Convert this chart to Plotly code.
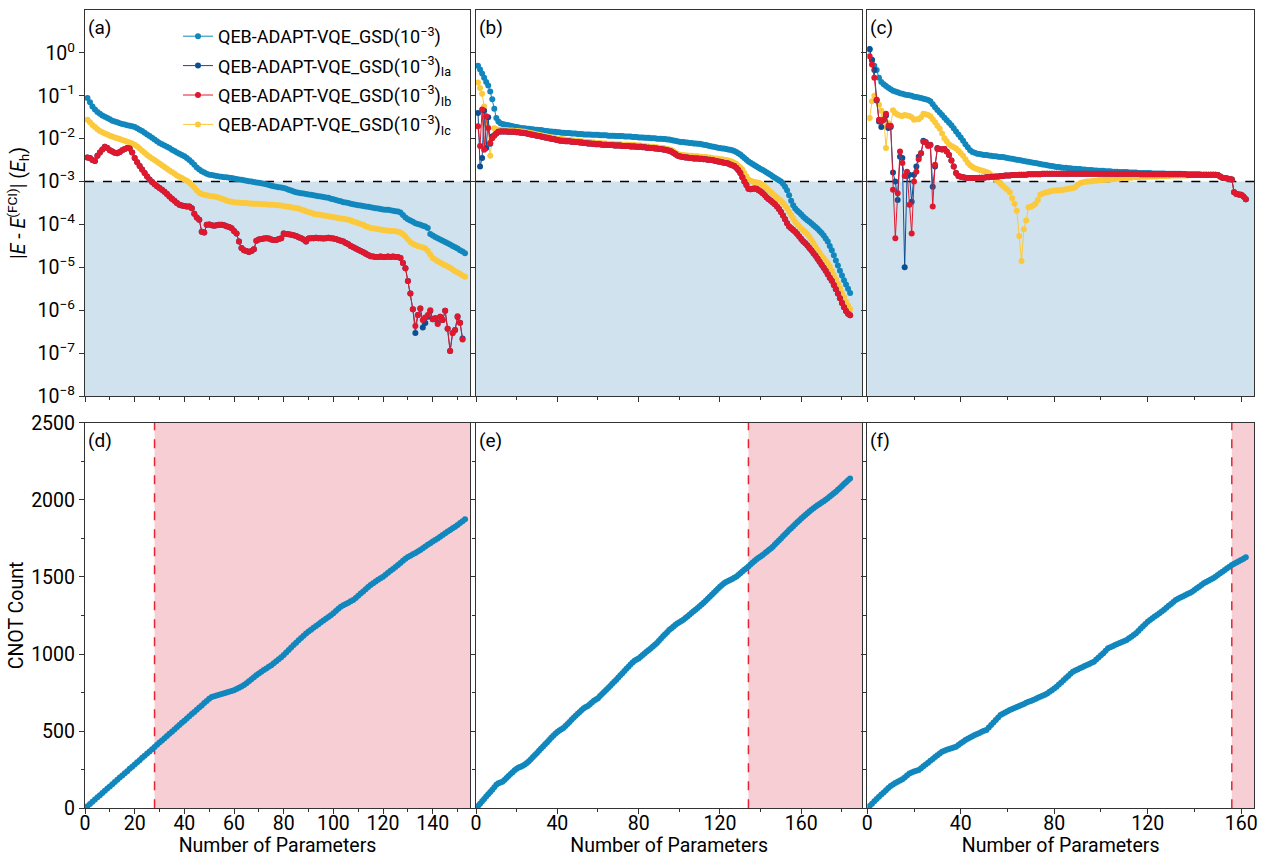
import plotly.graph_objects as go

# ---------------- data (log10 of |E - E_FCI| in Eh) ----------------
# Panel (a)
A_MAIN = [
    -1.05, -1.15, -1.25, -1.32, -1.38, -1.42, -1.46, -1.49, -1.52, -1.55,
    -1.58, -1.60, -1.62, -1.64, -1.66, -1.67, -1.69, -1.70, -1.71, -1.73,
    -1.76, -1.79, -1.82, -1.86, -1.90, -1.94, -1.98, -2.02, -2.06, -2.10,
    -2.13, -2.16, -2.19, -2.22, -2.26, -2.29, -2.32, -2.35, -2.38, -2.41,
    -2.45, -2.50, -2.55, -2.61, -2.67, -2.72, -2.76, -2.79, -2.82, -2.84,
    -2.85, -2.86, -2.87, -2.88, -2.89, -2.90, -2.90, -2.91, -2.92, -2.93,
    -2.94, -2.95, -2.96, -2.97, -2.98, -2.99, -3.00, -3.01, -3.02, -3.03,
    -3.04, -3.05, -3.06, -3.08, -3.10, -3.11, -3.12, -3.13, -3.14, -3.15,
    -3.17, -3.19, -3.21, -3.23, -3.25, -3.26, -3.27, -3.28, -3.29, -3.30,
    -3.31, -3.32, -3.33, -3.34, -3.35, -3.36, -3.37, -3.38, -3.40, -3.41,
    -3.43, -3.45, -3.46, -3.48, -3.49, -3.50, -3.52, -3.53, -3.54, -3.55,
    -3.56, -3.57, -3.58, -3.59, -3.60, -3.61, -3.62, -3.63, -3.64, -3.65,
    -3.66, -3.66, -3.67, -3.68, -3.69, -3.70, -3.72, -3.78, -3.84, -3.88,
    -3.91, -3.94, -3.97, -3.99, -4.01, -4.03, -4.05, -4.08, -4.22, -4.26,
    -4.29, -4.32, -4.35, -4.38, -4.41, -4.44, -4.47, -4.50, -4.53, -4.56,
    -4.60, -4.63, -4.67,
]
A_IB = [
    -2.44, -2.45, -2.50, -2.52, -2.40, -2.32, -2.25, -2.19, -2.22, -2.27,
    -2.30, -2.33, -2.34, -2.31, -2.27, -2.24, -2.22, -2.23, -2.32, -2.45,
    -2.55, -2.64, -2.72, -2.80, -2.88, -2.95, -3.01, -3.06, -3.11, -3.15,
    -3.19, -3.24, -3.29, -3.35, -3.40, -3.45, -3.50, -3.54, -3.56, -3.57,
    -3.58, -3.58, -3.62, -3.75, -3.84, -3.89, -4.17, -4.19, -4.01, -4.00,
    -4.02, -4.03, -4.02, -4.01, -4.01, -4.02, -4.04, -4.06, -4.09, -4.15,
    -4.21, -4.40, -4.55, -4.60, -4.62, -4.64, -4.62, -4.58, -4.38, -4.35,
    -4.34, -4.33, -4.32, -4.33, -4.35, -4.36, -4.36, -4.34, -4.32, -4.21,
    -4.22, -4.23, -4.24, -4.25, -4.27, -4.30, -4.32, -4.35, -4.40, -4.33,
    -4.32, -4.32, -4.31, -4.32, -4.32, -4.33, -4.32, -4.31, -4.32, -4.33,
    -4.34, -4.36, -4.38, -4.40, -4.43, -4.46, -4.50, -4.53, -4.56, -4.59,
    -4.62, -4.65, -4.68, -4.71, -4.74, -4.75, -4.76, -4.76, -4.75, -4.76,
    -4.76, -4.75, -4.76, -4.75, -4.76, -4.76, -4.78, -4.90, -5.02, -5.32,
    -5.61, -5.98, -6.37, -6.11, -5.96, -6.23, -6.17, -6.11, -6.00, -6.21,
    -6.19, -6.32, -6.15, -6.23, -6.01, -6.43, -6.95, -6.53, -6.46, -6.14,
    -6.29, -6.68,
]
A_IA = A_IB[:130] + [
    -5.61, -5.98, -6.53, -6.11, -5.96, -6.40, -6.30, -6.15, -6.02, -6.21,
    -6.19, -6.30, -6.15, -6.23, -6.01, -6.43, -6.95, -6.53, -6.46, -6.16,
    -6.29, -6.66,
]
A_IC = [
    -1.56, -1.62, -1.68, -1.73, -1.78, -1.82, -1.85, -1.88, -1.90, -1.93,
    -1.95, -1.97, -1.99, -2.01, -2.03, -2.05, -2.07, -2.09, -2.11, -2.14,
    -2.18, -2.23, -2.28, -2.33, -2.38, -2.42, -2.46, -2.50, -2.54, -2.58,
    -2.62, -2.66, -2.70, -2.74, -2.78, -2.82, -2.86, -2.89, -2.92, -2.95,
    -2.98, -3.02, -3.08, -3.14, -3.20, -3.26, -3.29, -3.31, -3.32, -3.33,
    -3.34, -3.35, -3.36, -3.38, -3.40, -3.42, -3.44, -3.46, -3.47, -3.48,
    -3.49, -3.49, -3.50, -3.50, -3.50, -3.51, -3.51, -3.52, -3.52, -3.52,
    -3.53, -3.53, -3.53, -3.54, -3.54, -3.54, -3.55, -3.55, -3.56, -3.57,
    -3.58, -3.59, -3.60, -3.61, -3.62, -3.63, -3.65, -3.67, -3.69, -3.71,
    -3.73, -3.75, -3.76, -3.77, -3.78, -3.79, -3.80, -3.81, -3.82, -3.83,
    -3.84, -3.85, -3.86, -3.87, -3.88, -3.89, -3.91, -3.93, -3.95, -3.97,
    -3.99, -4.01, -4.04, -4.06, -4.08, -4.09, -4.10, -4.11, -4.12, -4.13,
    -4.14, -4.14, -4.15, -4.15, -4.16, -4.17, -4.19, -4.23, -4.28, -4.35,
    -4.41, -4.45, -4.48, -4.50, -4.52, -4.54, -4.56, -4.62, -4.70, -4.78,
    -4.82, -4.86, -4.89, -4.92, -4.95, -4.98, -5.01, -5.05, -5.09, -5.12,
    -5.15, -5.19, -5.22,
]

# Panel (b)
B_MAIN = [
    -0.30, -0.39, -0.48, -0.58, -0.68, -0.76, -0.90, -1.08, -1.30, -1.52,
    -1.60, -1.64, -1.66, -1.67, -1.68, -1.69, -1.70, -1.71, -1.72, -1.73,
    -1.74, -1.75, -1.76, -1.76, -1.77, -1.77, -1.78, -1.78, -1.79, -1.79,
    -1.80, -1.80, -1.81, -1.82, -1.82, -1.83, -1.83, -1.84, -1.84, -1.85,
    -1.85, -1.86, -1.86, -1.87, -1.87, -1.87, -1.88, -1.88, -1.88, -1.89,
    -1.89, -1.89, -1.90, -1.90, -1.90, -1.90, -1.91, -1.91, -1.91, -1.91,
    -1.92, -1.92, -1.92, -1.92, -1.93, -1.93, -1.93, -1.93, -1.94, -1.94,
    -1.94, -1.94, -1.95, -1.95, -1.95, -1.95, -1.96, -1.96, -1.96, -1.97,
    -1.97, -1.97, -1.98, -1.98, -1.98, -1.99, -1.99, -1.99, -2.00, -2.00,
    -2.00, -2.01, -2.01, -2.02, -2.02, -2.03, -2.04, -2.05, -2.06, -2.07,
    -2.08, -2.08, -2.09, -2.09, -2.10, -2.10, -2.11, -2.11, -2.12, -2.12,
    -2.13, -2.14, -2.15, -2.16, -2.17, -2.18, -2.19, -2.20, -2.21, -2.22,
    -2.23, -2.23, -2.24, -2.25, -2.26, -2.27, -2.29, -2.31, -2.34, -2.37,
    -2.41, -2.45, -2.49, -2.53, -2.56, -2.59, -2.62, -2.65, -2.68, -2.71,
    -2.73, -2.76, -2.79, -2.82, -2.85, -2.88, -2.91, -2.94, -2.97, -3.00,
    -3.05, -3.12, -3.20, -3.32, -3.45, -3.55, -3.63, -3.68, -3.72, -3.77,
    -3.82, -3.86, -3.90, -3.94, -3.98, -4.02, -4.06, -4.10, -4.15, -4.20,
    -4.26, -4.33, -4.40, -4.50, -4.60, -4.72, -4.84, -4.96, -5.08, -5.19,
    -5.30, -5.40, -5.50, -5.60,
]
B_IB = [
    -1.71, -2.17, -1.32, -2.26, -1.48, -1.75, -2.10, -1.99, -1.93, -1.88,
    -1.84, -1.83, -1.83, -1.83, -1.83, -1.84, -1.84, -1.84, -1.84, -1.85,
    -1.85, -1.86, -1.86, -1.87, -1.88, -1.89, -1.90, -1.91, -1.92, -1.93,
    -1.94, -1.95, -1.96, -1.97, -1.98, -1.99, -2.00, -2.01, -2.02, -2.03,
    -2.04, -2.05, -2.05, -2.06, -2.06, -2.06, -2.07, -2.07, -2.08, -2.08,
    -2.09, -2.09, -2.10, -2.10, -2.11, -2.11, -2.12, -2.12, -2.13, -2.13,
    -2.13, -2.14, -2.14, -2.14, -2.15, -2.15, -2.15, -2.16, -2.16, -2.16,
    -2.16, -2.17, -2.17, -2.17, -2.17, -2.18, -2.18, -2.18, -2.19, -2.19,
    -2.19, -2.20, -2.20, -2.21, -2.21, -2.22, -2.22, -2.23, -2.23, -2.24,
    -2.24, -2.25, -2.26, -2.27, -2.28, -2.30, -2.33, -2.36, -2.39, -2.41,
    -2.42, -2.43, -2.44, -2.44, -2.45, -2.45, -2.46, -2.46, -2.46, -2.47,
    -2.47, -2.48, -2.48, -2.49, -2.49, -2.50, -2.51, -2.52, -2.53, -2.54,
    -2.55, -2.56, -2.57, -2.58, -2.60, -2.62, -2.64, -2.68, -2.73, -2.80,
    -2.90, -3.00, -3.08, -3.17, -3.18, -3.17, -3.16, -3.17, -3.20, -3.23,
    -3.27, -3.32, -3.37, -3.41, -3.45, -3.49, -3.53, -3.58, -3.64, -3.71,
    -3.79, -3.88, -3.97, -4.05, -4.09, -4.13, -4.17, -4.22, -4.28, -4.34,
    -4.40, -4.44, -4.49, -4.55, -4.61, -4.67, -4.73, -4.80, -4.87, -4.94,
    -5.01, -5.08, -5.16, -5.24, -5.31, -5.41, -5.51, -5.61, -5.72, -5.83,
    -5.93, -6.02, -6.08, -6.12,
]
B_IA = [-1.40, -2.65, -2.45, -1.35, -2.22, -1.50, -2.12, -1.95, -1.92, -1.88] + B_IB[10:]
B_IC = [
    -0.69, -0.82, -0.95, -1.25, -1.65, -2.10, -2.40, -1.95, -1.76, -1.78,
    -1.79, -1.80, -1.80, -1.80, -1.80, -1.81, -1.81, -1.81, -1.82, -1.82,
    -1.82, -1.83, -1.83, -1.84, -1.85, -1.86, -1.87, -1.88, -1.89, -1.90,
    -1.91, -1.92, -1.93, -1.94, -1.95, -1.96, -1.97, -1.98, -1.99, -2.00,
    -2.01, -2.01, -2.02, -2.02, -2.03, -2.03, -2.04, -2.04, -2.05, -2.05,
    -2.06, -2.06, -2.07, -2.07, -2.08, -2.08, -2.09, -2.09, -2.10, -2.10,
    -2.10, -2.11, -2.11, -2.11, -2.12, -2.12, -2.12, -2.13, -2.13, -2.13,
    -2.13, -2.14, -2.14, -2.14, -2.14, -2.15, -2.15, -2.15, -2.16, -2.16,
    -2.16, -2.17, -2.17, -2.18, -2.18, -2.19, -2.19, -2.20, -2.20, -2.21,
    -2.21, -2.22, -2.23, -2.24, -2.25, -2.26, -2.29, -2.32, -2.35, -2.37,
    -2.38, -2.38, -2.39, -2.39, -2.40, -2.40, -2.41, -2.41, -2.41, -2.42,
    -2.42, -2.43, -2.43, -2.44, -2.44, -2.45, -2.46, -2.46, -2.47, -2.48,
    -2.48, -2.49, -2.50, -2.51, -2.52, -2.54, -2.56, -2.59, -2.63, -2.67,
    -2.72, -2.80, -2.88, -2.95, -2.98, -3.00, -3.01, -3.02, -3.03, -3.05,
    -3.08, -3.12, -3.16, -3.21, -3.25, -3.29, -3.33, -3.37, -3.41, -3.45,
    -3.50, -3.56, -3.62, -3.70, -3.78, -3.86, -3.94, -4.00, -4.05, -4.10,
    -4.14, -4.18, -4.23, -4.29, -4.36, -4.44, -4.52, -4.59, -4.66, -4.73,
    -4.79, -4.85, -4.91, -4.98, -5.08, -5.18, -5.28, -5.38, -5.49, -5.60,
    -5.70, -5.80, -5.89, -5.97,
]

# Panel (c)
C_MAIN = [
    0.08, -0.18, -0.30, -0.40, -0.58, -0.68, -0.73, -0.77, -0.81, -0.85,
    -0.88, -0.90, -0.92, -0.94, -0.95, -0.97, -0.98, -0.99, -1.00, -1.02,
    -1.03, -1.04, -1.05, -1.07, -1.08, -1.10, -1.13, -1.20, -1.27, -1.33,
    -1.39, -1.45, -1.51, -1.57, -1.63, -1.69, -1.76, -1.83, -1.90, -1.97,
    -2.05, -2.13, -2.20, -2.27, -2.31, -2.33, -2.35, -2.36, -2.37, -2.38,
    -2.38, -2.39, -2.40, -2.41, -2.41, -2.42, -2.43, -2.43, -2.44, -2.45,
    -2.46, -2.47, -2.48, -2.49, -2.50, -2.51, -2.52, -2.53, -2.54, -2.55,
    -2.56, -2.57, -2.58, -2.59, -2.60, -2.61, -2.62, -2.63, -2.64, -2.65,
    -2.66, -2.66, -2.67, -2.68, -2.68, -2.69, -2.69, -2.70, -2.70, -2.71,
    -2.71, -2.72, -2.72, -2.73, -2.73, -2.73, -2.74, -2.74, -2.75, -2.75,
    -2.75, -2.76, -2.76, -2.76, -2.77, -2.77, -2.77, -2.78, -2.78, -2.78,
    -2.78, -2.79, -2.79, -2.79, -2.79, -2.80, -2.80, -2.80, -2.80, -2.80,
    -2.80, -2.81, -2.81, -2.81, -2.81, -2.81, -2.81, -2.82, -2.82, -2.82,
    -2.82, -2.82, -2.82, -2.82, -2.83, -2.83, -2.83, -2.83, -2.83, -2.83,
    -2.83, -2.83, -2.84, -2.84, -2.84, -2.84, -2.84, -2.84, -2.84, -2.85,
    -2.88, -2.91, -2.92, -2.93, -2.94, -2.95, -3.25, -3.29, -3.30, -3.31,
    -3.35, -3.41,
]
C_IB = [
    -0.08, -0.27, -0.58, -1.09, -1.56, -1.60, -1.56, -1.42, -1.70, -1.70,
    -3.19, -4.32, -3.27, -2.30, -2.57, -2.87, -2.77, -3.54, -4.21, -3.00,
    -2.77, -2.48, -2.34, -2.07, -2.09, -2.17, -2.15, -3.58, -2.61, -2.24,
    -2.24, -2.25, -2.24, -2.30, -2.38, -2.51, -2.65, -2.80, -2.87, -2.89,
    -2.90, -2.91, -2.92, -2.92, -2.92, -2.92, -2.92, -2.91, -2.91, -2.91,
    -2.90, -2.90, -2.89, -2.89, -2.88, -2.88, -2.87, -2.87, -2.86, -2.86,
    -2.86, -2.85, -2.85, -2.85, -2.84, -2.84, -2.84, -2.84, -2.83, -2.83,
    -2.83, -2.83, -2.83, -2.83, -2.82, -2.82, -2.82, -2.82, -2.82, -2.82,
    -2.82, -2.82, -2.82, -2.82, -2.82, -2.82, -2.82, -2.82, -2.82, -2.82,
    -2.82, -2.82, -2.82, -2.82, -2.82, -2.82, -2.82, -2.82, -2.82, -2.82,
    -2.82, -2.82, -2.82, -2.82, -2.82, -2.82, -2.82, -2.82, -2.82, -2.82,
    -2.82, -2.82, -2.82, -2.82, -2.82, -2.82, -2.83, -2.83, -2.83, -2.83,
    -2.83, -2.83, -2.83, -2.83, -2.83, -2.83, -2.83, -2.83, -2.83, -2.83,
    -2.83, -2.83, -2.83, -2.83, -2.83, -2.83, -2.84, -2.84, -2.84, -2.84,
    -2.84, -2.84, -2.84, -2.84, -2.84, -2.84, -2.84, -2.84, -2.84, -2.85,
    -2.88, -2.91, -2.92, -2.93, -2.94, -2.95, -3.25, -3.29, -3.30, -3.31,
    -3.35, -3.41,
]
C_IA = [
    0.09, -0.16, -0.40, -1.11, -1.60, -1.73, -1.56, -1.46, -1.75, -1.73,
    -2.79, -3.00, -3.43, -2.42, -2.45, -5.00, -2.87, -2.84, -3.47, -2.84,
    -2.65, -2.42, -2.34, -2.05, -2.08, -2.15, -2.14, -3.12, -2.65, -2.22,
] + C_IB[30:]
C_IC = [
    -1.52, -1.13, -1.00, -1.08, -1.21, -1.35, -1.48, -2.22, -1.64, -1.71, -1.34,
    -1.40, -1.44, -1.46, -1.47, -1.45, -1.46, -1.47, -1.50, -1.56,
    -1.55, -1.55, -1.50, -1.42, -1.43, -1.45, -1.48, -1.55, -1.62, -1.70,
    -1.77, -1.88, -1.99, -2.06, -2.13, -2.17, -2.20, -2.23, -2.28, -2.34,
    -2.40, -2.48, -2.56, -2.62, -2.66, -2.69, -2.71, -2.73, -2.74, -2.76,
    -2.78, -2.80, -2.85, -2.90, -2.95, -3.00, -3.05, -3.10, -3.15, -3.19,
    -3.25, -3.39, -3.52, -3.68, -4.27, -4.85, -4.11, -3.91, -3.60, -3.59,
    -3.56, -3.52, -3.43, -3.31, -3.28, -3.26, -3.25, -3.23, -3.22, -3.21,
    -3.21, -3.20, -3.20, -3.19, -3.18, -3.17, -3.16, -3.15, -3.13, -3.08,
    -3.04, -3.02, -3.01, -3.00, -3.00, -2.99, -2.98, -2.98, -2.97, -2.97,
    -2.96, -2.96, -2.95, -2.95, -2.94, -2.94, -2.93, -2.93, -2.92, -2.92,
    -2.91, -2.91, -2.91, -2.90, -2.90, -2.90, -2.89, -2.89, -2.89, -2.89,
    -2.88, -2.88, -2.88, -2.88, -2.87, -2.87, -2.87, -2.87, -2.87, -2.86,
    -2.86, -2.86, -2.86, -2.86, -2.86, -2.86, -2.86, -2.85, -2.85, -2.85,
    -2.85, -2.85, -2.85, -2.85, -2.85, -2.85, -2.85, -2.85, -2.85, -2.85,
    -2.88, -2.91, -2.92, -2.93, -2.94, -2.95, -3.25, -3.29, -3.30, -3.31,
    -3.35, -3.41,
]

# CNOT counts (panels d, e, f)
D_CNOT = [
    14, 28, 43, 57, 71, 85, 99, 114, 128, 142,
    156, 170, 185, 199, 213, 227, 241, 256, 270, 284,
    298, 312, 327, 341, 355, 369, 383, 398, 412, 426,
    440, 454, 469, 483, 497, 511, 525, 540, 554, 568,
    582, 596, 611, 625, 639, 653, 667, 682, 696, 710,
    722, 727, 731, 736, 741, 746, 751, 756, 761, 766,
    773, 781, 790, 799, 811, 824, 837, 850, 862, 874,
    886, 897, 907, 917, 928, 940, 953, 966, 980, 994,
    1010, 1026, 1042, 1058, 1073, 1089, 1104, 1119, 1134, 1146,
    1158, 1170, 1182, 1194, 1206, 1218, 1229, 1241, 1252, 1264,
    1279, 1293, 1307, 1316, 1325, 1333, 1342, 1350, 1364, 1378,
    1392, 1406, 1420, 1434, 1448, 1459, 1470, 1481, 1492, 1502,
    1515, 1527, 1540, 1552, 1565, 1577, 1591, 1605, 1618, 1629,
    1638, 1647, 1656, 1665, 1675, 1686, 1697, 1708, 1718, 1729,
    1740, 1750, 1761, 1772, 1783, 1794, 1805, 1815, 1826, 1837,
    1849, 1861, 1874,
]
E_CNOT = [
    15, 30, 46, 61, 76, 91, 106, 121, 136, 152,
    163, 167, 172, 184, 197, 209, 222, 234, 246, 256,
    264, 270, 276, 284, 293, 305, 318, 332, 345, 359,
    373, 387, 401, 415, 429, 443, 457, 471, 484, 495,
    505, 512, 521, 534, 547, 560, 574, 587, 600, 613,
    625, 638, 648, 656, 663, 675, 686, 697, 706, 714,
    728, 741, 754, 767, 780, 793, 807, 820, 834, 848,
    862, 876, 890, 904, 918, 932, 946, 956, 964, 972,
    983, 994, 1005, 1016, 1027, 1038, 1049, 1060, 1072, 1086,
    1101, 1115, 1129, 1142, 1156, 1166, 1177, 1188, 1198, 1207,
    1215, 1222, 1233, 1244, 1255, 1266, 1277, 1288, 1299, 1310,
    1321, 1332, 1345, 1358, 1371, 1384, 1397, 1410, 1423, 1437,
    1448, 1459, 1468, 1474, 1480, 1487, 1494, 1502, 1513, 1524,
    1535, 1546, 1557, 1568, 1580, 1592, 1604, 1615, 1624, 1633,
    1642, 1653, 1663, 1674, 1685, 1696, 1710, 1724, 1737, 1750,
    1764, 1777, 1790, 1804, 1816, 1829, 1841, 1854, 1866, 1879,
    1891, 1902, 1913, 1924, 1935, 1945, 1955, 1964, 1973, 1982,
    1991, 2001, 2010, 2021, 2032, 2043, 2053, 2065, 2077, 2089,
    2102, 2114, 2127, 2139,
]
F_CNOT = [
    15, 30, 45, 60, 75, 89, 103, 117, 131, 145,
    155, 164, 172, 180, 189, 200, 212, 225, 232, 238,
    243, 248, 260, 272, 284, 296, 308, 320, 332, 344,
    356, 367, 373, 379, 384, 389, 394, 399, 410, 421,
    432, 443, 451, 459, 467, 475, 482, 489, 496, 502,
    508, 524, 540, 556, 572, 588, 605, 613, 621, 629,
    637, 644, 651, 657, 664, 670, 677, 684, 690, 696,
    702, 709, 716, 723, 730, 737, 745, 756, 766, 777,
    788, 802, 816, 830, 844, 858, 872, 886, 893, 900,
    908, 915, 922, 929, 936, 943, 950, 964, 978, 992,
    1006, 1021, 1037, 1044, 1051, 1058, 1065, 1071, 1078, 1084,
    1091, 1102, 1113, 1124, 1135, 1150, 1165, 1180, 1195, 1210,
    1221, 1232, 1243, 1254, 1264, 1276, 1288, 1301, 1313, 1325,
    1338, 1350, 1358, 1366, 1373, 1381, 1389, 1396, 1404, 1415,
    1426, 1437, 1448, 1459, 1467, 1475, 1483, 1491, 1502, 1513,
    1524, 1534, 1545, 1556, 1566, 1577, 1585, 1593, 1602, 1610,
    1618, 1627,
]

CUTOFFS = [28, 134, 156]          # parameter count where 1e-3 accuracy is reached
X_MAX = [155, 190, 165.5]
THRESH = 1e-3
PANEL_LABELS = ["(a)", "(b)", "(c)", "(d)", "(e)", "(f)"]
SERIES_NAMES = [
    "QEB-ADAPT-VQE_GSD(10<sup>−3</sup>)",
    "QEB-ADAPT-VQE_GSD(10<sup>−3</sup>)<sub>Ia</sub>",
    "QEB-ADAPT-VQE_GSD(10<sup>−3</sup>)<sub>Ib</sub>",
    "QEB-ADAPT-VQE_GSD(10<sup>−3</sup>)<sub>Ic</sub>",
]

# ---------------- styling ----------------
W, H = 1262, 857
COLORS = ["#1187bd", "#0d4f93", "#e0182e", "#fcc93c"]
FILL_BLUE = "#d0e2ee"
FILL_PINK = "#f7ced4"
AXCOL = "#333333"
FS = 19.5

XD = [(85 / W, 470 / W), (476 / W, 862.3 / W), (867.3 / W, 1254 / W)]
YD_TOP = (1 - 396 / H, 1 - 10 / H)
YD_BOT = (1 - 808.3 / H, 1 - 422.7 / H)

fig = go.Figure()

top_sets = [
    (A_MAIN, A_IA, A_IB, A_IC),
    (B_MAIN, B_IA, B_IB, B_IC),
    (C_MAIN, C_IA, C_IB, C_IC),
]
draw_order = [0, 3, 1, 2]
for p, sets in enumerate(top_sets):
    xa = "x" if p == 0 else f"x{p + 1}"
    ya = "y" if p == 0 else f"y{p + 1}"
    for k in draw_order:
        vals = sets[k]
        fig.add_trace(go.Scatter(
            x=list(range(1, len(vals) + 1)),
            y=[10 ** v for v in vals],
            mode="lines+markers",
            line=dict(color=COLORS[k], width=1),
            marker=dict(color=COLORS[k], size=6),
            name=SERIES_NAMES[k],
            legendgroup=f"g{k}",
            legendrank=k + 1,
            showlegend=(p == 0),
            xaxis=xa, yaxis=ya,
        ))

for p, vals in enumerate([D_CNOT, E_CNOT, F_CNOT]):
    fig.add_trace(go.Scatter(
        x=list(range(1, len(vals) + 1)), y=vals,
        mode="lines+markers",
        line=dict(color=COLORS[0], width=1),
        marker=dict(color=COLORS[0], size=6),
        showlegend=False,
        xaxis=f"x{p + 4}", yaxis=f"y{p + 4}",
    ))

shapes = []
annotations = []
for p in range(3):
    xr = "x" if p == 0 else f"x{p + 1}"
    yr = "y" if p == 0 else f"y{p + 1}"
    shapes.append(dict(type="rect", xref=f"{xr} domain", yref=yr, x0=0, x1=1,
                       y0=1e-8, y1=THRESH, fillcolor=FILL_BLUE, line=dict(width=0),
                       layer="below"))
    shapes.append(dict(type="line", xref=f"{xr} domain", yref=yr, x0=0, x1=1,
                       y0=THRESH, y1=THRESH, line=dict(color="black", width=1.5, dash="dash"),
                       layer="below"))
    xb, yb = f"x{p + 4}", f"y{p + 4}"
    shapes.append(dict(type="rect", xref=xb, yref=f"{yb} domain", x0=CUTOFFS[p], x1=X_MAX[p],
                       y0=0, y1=1, fillcolor=FILL_PINK, line=dict(width=0), layer="below"))
    shapes.append(dict(type="line", xref=xb, yref=f"{yb} domain", x0=CUTOFFS[p], x1=CUTOFFS[p],
                       y0=0, y1=1, line=dict(color="#e8232f", width=1.5, dash="dash"),
                       layer="below"))

for i, lab in enumerate(PANEL_LABELS):
    xr = "x" if i == 0 else f"x{i + 1}"
    yr = "y" if i == 0 else f"y{i + 1}"
    annotations.append(dict(text=lab, xref=f"{xr} domain", yref=f"{yr} domain",
                            x=0.003, y=0.99, xanchor="left", yanchor="top",
                            showarrow=False, font=dict(size=19, color="black")))

common = dict(showline=True, linecolor=AXCOL, linewidth=1.2, mirror=True,
              ticks="outside", ticklen=5, tickwidth=1.2, tickcolor=AXCOL,
              showgrid=False, zeroline=False, automargin=False,
              tickfont=dict(size=FS, color="black"))

dec = list(range(0, -9, -1))
log_vals = [10.0 ** d for d in dec]
log_text = [f"10<sup>{'−' if d < 0 else ''}{abs(d)}</sup>" for d in dec]

layout_axes = {}
for p in range(3):
    dt = 20 if p == 0 else 40
    xkw = dict(common, range=[0, X_MAX[p]], domain=list(XD[p]), dtick=dt, tick0=0,
               minor=dict(dtick=dt / 2, ticks="outside", ticklen=3, tickcolor=AXCOL, showgrid=False))
    top_x = dict(xkw, showticklabels=False, anchor="y" if p == 0 else f"y{p + 1}")
    bot_x = dict(xkw, anchor=f"y{p + 4}", ticklabelstandoff=-8,
                 title=dict(text="Number of Parameters", font=dict(size=FS), standoff=8))
    layout_axes["xaxis" if p == 0 else f"xaxis{p + 1}"] = top_x
    layout_axes[f"xaxis{p + 4}"] = bot_x

    top_y = dict(common, type="log", range=[-8, 1], domain=list(YD_TOP),
                 tickvals=log_vals, ticktext=log_text, showticklabels=(p == 0),
                 anchor="x" if p == 0 else f"x{p + 1}")
    bot_y = dict(common, range=[0, 2500], domain=list(YD_BOT), dtick=500, tick0=0,
                 minor=dict(dtick=250, ticks="outside", ticklen=3, tickcolor=AXCOL, showgrid=False),
                 showticklabels=(p == 0), anchor=f"x{p + 4}")
    if p == 0:
        top_y["title"] = dict(text="|<i>E</i> - <i>E</i><sup>(FCI)</sup>| (<i>E</i><sub>h</sub>)",
                              font=dict(size=FS), standoff=6)
        bot_y["title"] = dict(text="CNOT Count", font=dict(size=FS), standoff=2)
    layout_axes["yaxis" if p == 0 else f"yaxis{p + 1}"] = top_y
    layout_axes[f"yaxis{p + 4}"] = bot_y

fig.update_layout(
    width=W, height=H,
    margin=dict(l=0, r=0, t=0, b=0),
    plot_bgcolor="white", paper_bgcolor="white",
    font=dict(family="Roboto, Arial, sans-serif", size=FS, color="black"),
    shapes=shapes, annotations=annotations,
    legend=dict(x=178 / W, y=1 - 18 / H, xanchor="left", yanchor="top",
                bgcolor="rgba(0,0,0,0)", font=dict(size=18), tracegroupgap=3,
                itemwidth=30),
    **layout_axes,
)

fig.write_html("out.html")
